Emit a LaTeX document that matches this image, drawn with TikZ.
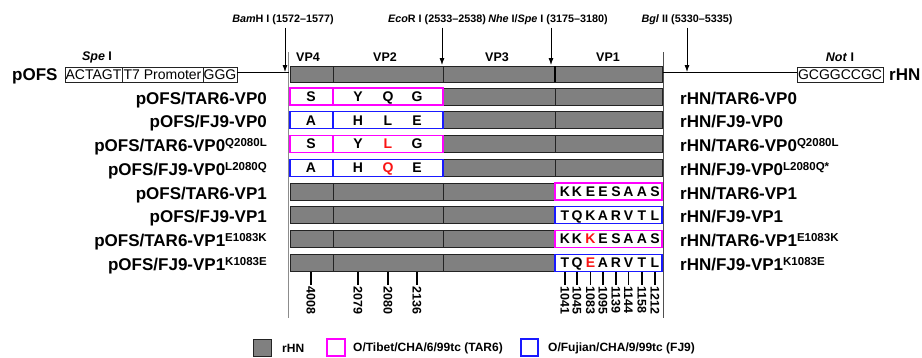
\documentclass[tikz,border=0pt]{standalone}
\usepackage{fontspec}
\setmainfont{Liberation Sans}
\usetikzlibrary{arrows.meta}
\definecolor{segfill}{RGB}{128,128,128}
\definecolor{tarc}{RGB}{255,0,255}
\definecolor{fjc}{RGB}{25,25,255}
\definecolor{mut}{RGB}{250,20,20}
\definecolor{edgec}{RGB}{35,35,35}
\definecolor{guide}{RGB}{140,140,140}
\newcommand{\fs}[1]{\fontsize{#1}{#1}\selectfont}
\newcommand{\mysup}[1]{\raisebox{4.6pt}{\fs{11.5}#1}}
\newcommand{\mred}[1]{\textcolor{mut}{#1}}
\begin{document}
\begin{tikzpicture}[x=1pt,y=-1pt,
  seg/.style={draw=edgec, fill=segfill, line width=0.9pt},
  tarbox/.style={draw=tarc, fill=white, line width=1.2pt},
  fjbox/.style={draw=fjc, fill=white, line width=1.2pt},
  rowlab/.style={font=\fs{17}\bfseries, inner sep=0pt},
  aa/.style={font=\fs{14}\bfseries, inner sep=0pt, anchor=base},
  sitelab/.style={font=\fs{10.8}\bfseries, inner sep=0pt, outer sep=2.5pt},
  vplab/.style={font=\fs{12.5}\bfseries, inner sep=0pt},
  seqbox/.style={draw=edgec, line width=0.8pt, minimum height=15pt, inner sep=0pt, font=\fs{14}},
  ticklab/.style={font=\fs{12.5}\bfseries, inner sep=0pt, rotate=-90, anchor=west},
  arr/.style={-{Latex[length=7pt,width=5pt]}, line width=0.8pt},
  legtext/.style={font=\fs{12}\bfseries, inner sep=0pt, anchor=west}
]
\useasboundingbox (0,0) rectangle (922,357);

% guide lines
\draw[guide, line width=0.8pt] (288.5,52) -- (288.5,318);
\draw[edgec!80, line width=0.8pt] (663,52) -- (663,318);

% left construct
\node[rowlab, anchor=base west] (pofs) at (12,80) {pOFS};
\node[seqbox, minimum width=57pt] (act) at (93.5,74.5) {ACTAGT};
\node[seqbox, minimum width=81pt] (t7) at (162.5,74.5) {T7 Promoter};
\node[seqbox, minimum width=34pt] (ggg) at (220,74.5) {GGG};
\node[vplab] (spe) at (97,57) {\textit{Spe} I};
\coordinate (lend) at (288.5,72.5);
\draw[line width=1.3pt] (ggg.east |- lend) -- (lend);

% right construct
\node[seqbox, minimum width=86pt] (not) at (840,74.5) {GCGGCCGC};
\node[vplab] (notl) at (840,57) {\textit{Not} I};
\node[rowlab, anchor=base west] (rhn) at (889,80) {rHN};
\coordinate (rstart) at (663,72.5);
\draw[line width=1.3pt] (rstart) -- (not.west |- rstart);

% main bar
\draw[seg] (290,66) rectangle (333,82);
\draw[seg] (333,66) rectangle (443,82);
\draw[seg] (443,66) rectangle (555,82);
\draw[seg] (555,66) rectangle (662,82);
\draw[line width=1.6pt, black] (555,66) -- (555,82);
\node[vplab] (vp4) at (308,57) {VP4};
\node[vplab] (vp2) at (385,57) {VP2};
\node[vplab] (vp3) at (497,57) {VP3};
\node[vplab] (vp1) at (608,57) {VP1};

% restriction sites
\node[sitelab] (bam) at (283,20) {\textit{Bam}H I (1572–1577)};
\coordinate (bamtip) at (285,72);
\draw[arr] (bam.south -| bamtip) -- (bamtip);
\node[sitelab] (eco) at (437,20) {\textit{Eco}R I (2533–2538)};
\coordinate (ecotip) at (442,65);
\draw[arr] (eco.south -| ecotip) -- (ecotip);
\node[sitelab] (nhe) at (548,20) {\textit{Nhe} I/\textit{Spe} I (3175–3180)};
\coordinate (nhetip) at (551,65);
\draw[arr] (nhe.south -| nhetip) -- (nhetip);
\node[sitelab] (bgl) at (687,20) {\textit{Bgl} II (5330–5335)};
\coordinate (bgltip) at (687,72);
\draw[arr] (bgl.south -| bgltip) -- (bgltip);

% VP0 rows
\foreach \i/\st/\a/\b/\c/\d in {0/tarbox/S/Y/Q/G, 1/fjbox/A/H/L/E, 2/tarbox/S/Y/\mred{L}/G, 3/fjbox/A/H/\mred{Q}/E} {
  \pgfmathsetmacro\t{88+23.75*\i}
  \draw[seg] (443,\t) rectangle (555,\t+17);
  \draw[seg] (555,\t) rectangle (662,\t+17);
  \draw[\st] (290,\t) rectangle (333,\t+17);
  \draw[\st] (333,\t) rectangle (443,\t+17);
  \node[aa] (r\i a) at (311,\t+13.3) {\a};
  \node[aa] (r\i b) at (358,\t+13.3) {\b};
  \node[aa] (r\i c) at (388,\t+13.3) {\c};
  \node[aa] (r\i d) at (417,\t+13.3) {\d};
}

% VP1 rows
\foreach \i/\st/\seq in {4/tarbox/{K,K,E,E,S,A,A,S}, 5/fjbox/{T,Q,K,A,R,V,T,L}, 6/tarbox/{K,K,\mred{K},E,S,A,A,S}, 7/fjbox/{T,Q,\mred{E},A,R,V,T,L}} {
  \pgfmathsetmacro\t{88+23.75*\i}
  \draw[seg] (290,\t) rectangle (333,\t+17);
  \draw[seg] (333,\t) rectangle (443,\t+17);
  \draw[seg] (443,\t) rectangle (555,\t+17);
  \draw[\st] (555,\t) rectangle (662,\t+17);
  \foreach \ch [count=\k] in \seq {
    \pgfmathsetmacro\xx{{565,577,590.5,603,616,628.5,642,655}[\k-1]}
    \node[aa] (r\i s\k) at (\xx,\t+13.3) {\ch};
  }
}

% row labels
\foreach \i/\l/\r in {
  0/{pOFS/TAR6-VP0}/{rHN/TAR6-VP0},
  1/{pOFS/FJ9-VP0}/{rHN/FJ9-VP0},
  2/{pOFS/TAR6-VP0\mysup{Q2080L}}/{rHN/TAR6-VP0\mysup{Q2080L}},
  3/{pOFS/FJ9-VP0\mysup{L2080Q}}/{rHN/FJ9-VP0\mysup{L2080Q*}},
  4/{pOFS/TAR6-VP1}/{rHN/TAR6-VP1},
  5/{pOFS/FJ9-VP1}/{rHN/FJ9-VP1},
  6/{pOFS/TAR6-VP1\mysup{E1083K}}/{rHN/TAR6-VP1\mysup{E1083K}},
  7/{pOFS/FJ9-VP1\mysup{K1083E}}/{rHN/FJ9-VP1\mysup{K1083E}}} {
  \pgfmathsetmacro\t{88+23.75*\i}
  \node[rowlab, anchor=base east] (L\i) at (267,\t+16) {\l};
  \node[rowlab, anchor=base west] (R\i) at (680,\t+16) {\r};
}

% ticks
\foreach \x/\l in {311/4008, 358/2079, 388/2080, 417/2136, 565/1041, 577/1045, 590.5/1083, 603/1095, 616/1139, 628.5/1144, 642/1158, 655/1212} {
  \draw[line width=1.2pt] (\x,271.5) -- (\x,285);
  \node[ticklab] (tk\l) at (\x,286) {\l};
}

% legend
\node[draw=edgec, fill=segfill, line width=0.9pt, minimum width=18pt, minimum height=17pt, inner sep=0pt] (lg1) at (262,347.5) {};
\node[legtext] (lt1) at (282,348) {rHN};
\node[draw=tarc, line width=1.2pt, minimum width=18pt, minimum height=17pt, inner sep=0pt] (lg2) at (336,347.5) {};
\node[legtext] (lt2) at (353,348) {O/Tibet/CHA/6/99tc (TAR6)};
\node[draw=fjc, line width=1.2pt, minimum width=17pt, minimum height=17pt, inner sep=0pt] (lg3) at (529.5,347.5) {};
\node[legtext] (lt3) at (548,348) {O/Fujian/CHA/9/99tc (FJ9)};
\end{tikzpicture}
\end{document}
